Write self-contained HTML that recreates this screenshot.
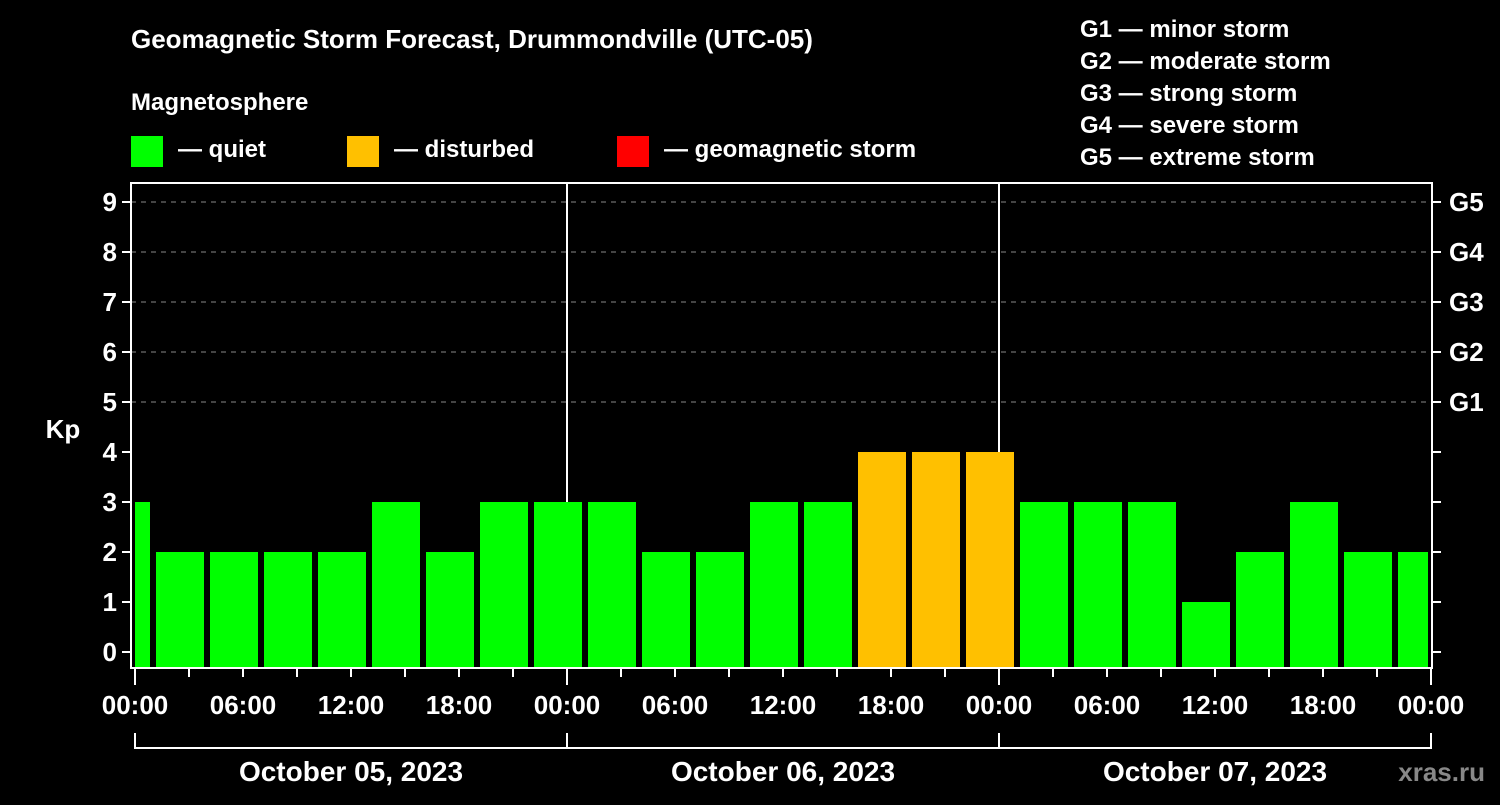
<!DOCTYPE html>
<html><head><meta charset="utf-8"><style>
body{margin:0;background:#000;width:1500px;height:800px;overflow:hidden;font-family:"Liberation Sans",sans-serif;}
svg text{font-family:"Liberation Sans",sans-serif;font-weight:bold;fill:#fff;}
</style></head><body>
<svg id="chart" width="1500" height="800" xmlns="http://www.w3.org/2000/svg">
<text x="131" y="48" font-size="26">Geomagnetic Storm Forecast, Drummondville (UTC-05)</text>
<text x="131" y="110" font-size="24">Magnetosphere</text>
<g><rect x="131" y="136" width="32" height="31" fill="#00ff00"/><text x="178" y="157" font-size="24">— quiet</text></g>
<g><rect x="347" y="136" width="32" height="31" fill="#ffc000"/><text x="394" y="157" font-size="24">— disturbed</text></g>
<g><rect x="617" y="136" width="32" height="31" fill="#ff0000"/><text x="664" y="157" font-size="24">— geomagnetic storm</text></g>
<g font-size="24">
<text x="1080" y="37">G1 — minor storm</text><text x="1080" y="69">G2 — moderate storm</text><text x="1080" y="101">G3 — strong storm</text><text x="1080" y="133">G4 — severe storm</text><text x="1080" y="165">G5 — extreme storm</text></g>
<text x="63" y="438" font-size="26" text-anchor="middle">Kp</text>
<g id="grid"></g><g id="bars"></g><g id="axes"></g>
<text x="1485" y="781" font-size="26" text-anchor="end" fill="#888" style="fill:#888">xras.ru</text>
</svg>
<script>
const values=[3,2,2,2,2,3,2,3,3,3,2,2,3,3,4,4,4,3,3,3,1,2,3,2,2];
const dayLabels=["October 05, 2023","October 06, 2023","October 07, 2023"];
const yTicks=[0,1,2,3,4,5,6,7,8,9];
const gLabels=["G1","G2","G3","G4","G5"];
const timeLabels=["00:00","06:00","12:00","18:00"];
const NS="http://www.w3.org/2000/svg";
const X0=135,PXH=18,L=131,R=1432,T=183,B=668,XEND=1431;
const x=h=>X0+h*PXH, y=v=>652-v*50;
function mk(tag,at,parent){const e=document.createElementNS(NS,tag);for(const k in at)e.setAttribute(k,at[k]);parent.appendChild(e);return e;}
const grid=document.getElementById('grid'),bars=document.getElementById('bars'),axes=document.getElementById('axes');
yTicks.forEach(v=>{
 if(v>=5){const l=mk('line',{x1:L,x2:R,y1:y(v),y2:y(v),stroke:'#888','stroke-dasharray':'5,5','stroke-width':1},grid);
 
 }
 const t=mk('line',{x1:L-9,x2:L,y1:y(v),y2:y(v),stroke:'#fff','stroke-width':2},axes);
 
 
 mk('line',{x1:R,x2:R+9,y1:y(v),y2:y(v),stroke:'#fff','stroke-width':2},axes);
 const tx=mk('text',{x:L-14,y:y(v)+9,'font-size':26,'text-anchor':'end'},axes);tx.textContent=v;
 
 
});
gLabels.forEach((g,i)=>{const tx=mk('text',{x:R+17,y:y(5+i)+9,'font-size':26},axes);tx.textContent=g;
 
 });
values.forEach((v,i)=>{
 let s=x(-2+3*i)+3,e=x(1+3*i)-3;s=Math.max(s,X0);e=Math.min(e,XEND-3);
 const c=v>=5?'#ff0000':v>=4?'#ffc000':'#00ff00';
 const r=mk('rect',{x:s,y:y(v),width:e-s,height:B-y(v),fill:c},bars);
 
 
});
[1,2].forEach(d=>{const l=mk('line',{x1:x(24*d),x2:x(24*d),y1:T,y2:B,stroke:'#fff','stroke-width':2},grid);
 
 });
const fr=mk('rect',{x:L,y:T,width:R-L,height:B-T,fill:'none',stroke:'#fff','stroke-width':2},axes);


for(let h=0;h<=72;h+=3){const big=h%24===0;
 mk('line',{x1:x(h),x2:x(h),y1:B,y2:B+(big?17:9),stroke:'#fff','stroke-width':2},axes);
 if(h%6===0){const tx=mk('text',{x:x(h),y:714,'font-size':26,'text-anchor':'middle'},axes);tx.textContent=timeLabels[(h%24)/6];
 
 }}
mk('polyline',{points:`${x(0)},733 ${x(0)},748 ${x(72)},748 ${x(72)},733`,fill:'none',stroke:'#fff','stroke-width':2},axes);
[1,2].forEach(d=>mk('line',{x1:x(24*d),x2:x(24*d),y1:733,y2:748,stroke:'#fff','stroke-width':2},axes));
dayLabels.forEach((d,i)=>{const tx=mk('text',{x:x(24*i+12),y:781,'font-size':28,'text-anchor':'middle'},axes);tx.textContent=d;
 
 });
</script>
</body></html>
